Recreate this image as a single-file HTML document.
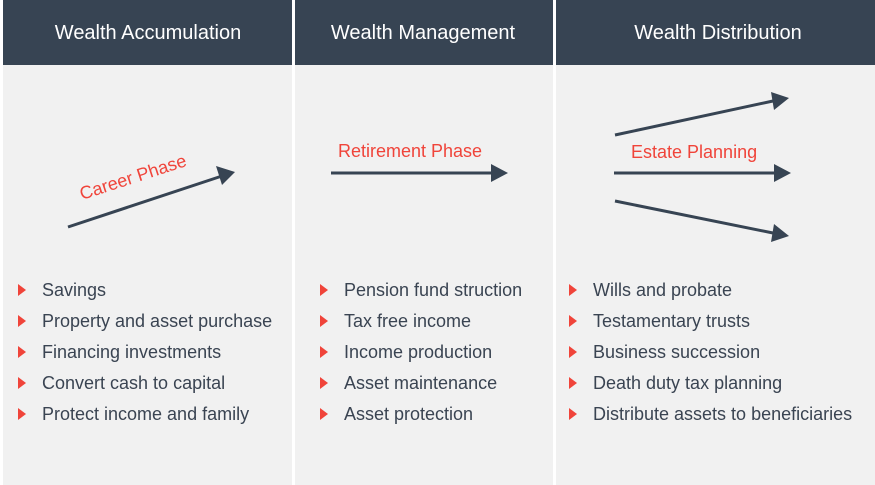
<!DOCTYPE html>
<html><head><style>
body{margin:0;width:875px;height:485px;background:#fff;overflow:hidden}
svg{display:block}
text{font-family:"Liberation Sans",Arial,sans-serif}
</style></head><body>
<svg width="875" height="485" viewBox="0 0 875 485">
<rect x="3" y="0" width="289" height="485" fill="#f1f1f1"/>
<rect x="295" y="0" width="258" height="485" fill="#f1f1f1"/>
<rect x="556" y="0" width="319" height="485" fill="#f1f1f1"/>
<rect x="3" y="0" width="289" height="65" fill="#374453"/>
<rect x="295" y="0" width="258" height="65" fill="#374453"/>
<rect x="556" y="0" width="319" height="65" fill="#374453"/>
<g fill="#fff" font-size="20" text-anchor="middle">
<text x="148" y="39">Wealth Accumulation</text>
<text x="423" y="39">Wealth Management</text>
<text x="718" y="39">Wealth Distribution</text>
</g>
<g stroke="#374453" stroke-width="3" fill="none">
<line x1="68" y1="227" x2="222" y2="176"/>
<line x1="331" y1="173" x2="492" y2="173"/>
<line x1="615" y1="135" x2="773" y2="101"/>
<line x1="614" y1="173" x2="775" y2="173"/>
<line x1="615" y1="201" x2="773" y2="233"/>
</g>
<g fill="#374453">
<polygon points="235,172 216,166 222,185"/>
<polygon points="508,173 491,164 491,182"/>
<polygon points="789,98 771,92 774,110"/>
<polygon points="791,173 774,164 774,182"/>
<polygon points="789,236 774,224 771,242"/>
</g>
<g fill="#f0443a" font-size="18">
<text x="82" y="200" transform="rotate(-18 82 200)">Career Phase</text>
<text x="338" y="157">Retirement Phase</text>
<text x="631" y="158">Estate Planning</text>
</g>
<g fill="#f0443a">
<polygon points="18,284 26,290 18,296"/><polygon points="18,315 26,321 18,327"/><polygon points="18,346 26,352 18,358"/><polygon points="18,377 26,383 18,389"/><polygon points="18,408 26,414 18,420"/>
<polygon points="320,284 328,290 320,296"/><polygon points="320,315 328,321 320,327"/><polygon points="320,346 328,352 320,358"/><polygon points="320,377 328,383 320,389"/><polygon points="320,408 328,414 320,420"/>
<polygon points="569,284 577,290 569,296"/><polygon points="569,315 577,321 569,327"/><polygon points="569,346 577,352 569,358"/><polygon points="569,377 577,383 569,389"/><polygon points="569,408 577,414 569,420"/>
</g>
<g fill="#3a4452" font-size="18">
<text x="42" y="296">Savings</text>
<text x="42" y="327">Property and asset purchase</text>
<text x="42" y="358">Financing investments</text>
<text x="42" y="389">Convert cash to capital</text>
<text x="42" y="420">Protect income and family</text>
<text x="344" y="296">Pension fund struction</text>
<text x="344" y="327">Tax free income</text>
<text x="344" y="358">Income production</text>
<text x="344" y="389">Asset maintenance</text>
<text x="344" y="420">Asset protection</text>
<text x="593" y="296">Wills and probate</text>
<text x="593" y="327">Testamentary trusts</text>
<text x="593" y="358">Business succession</text>
<text x="593" y="389">Death duty tax planning</text>
<text x="593" y="420">Distribute assets to beneficiaries</text>
</g>
</svg>
</body></html>
